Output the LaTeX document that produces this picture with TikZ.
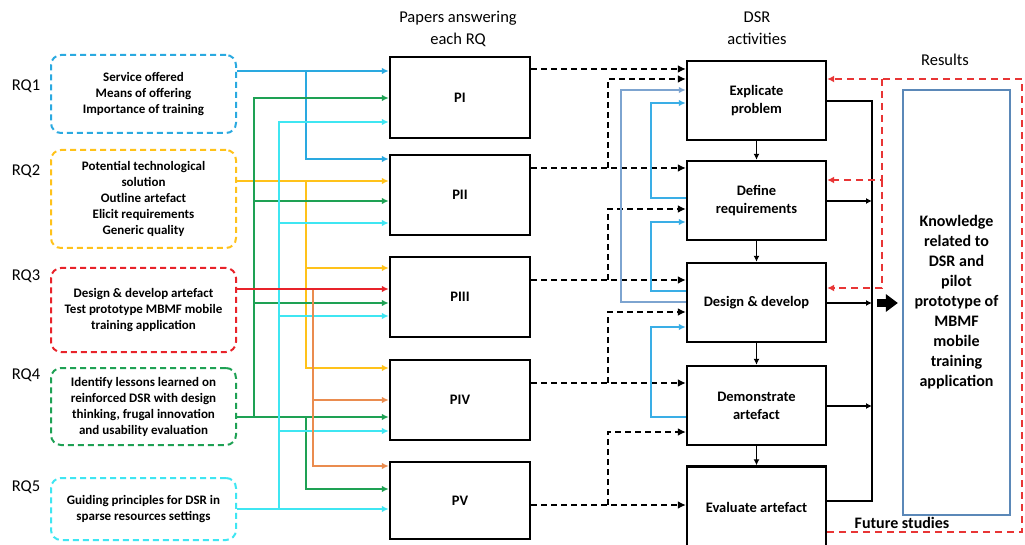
\documentclass[tikz,border=0pt]{standalone}
\usepackage{fontspec}
\setmainfont{Carlito}
\usetikzlibrary{arrows.meta}

\definecolor{rqblue}{HTML}{2AA9E0}
\definecolor{rqyellow}{HTML}{FFC21A}
\definecolor{rqred}{HTML}{E8232A}
\definecolor{rqgreen}{HTML}{1EA154}
\definecolor{rqcyan}{HTML}{3FE6F2}
\definecolor{rqorange}{HTML}{EA8C4F}
\definecolor{steelfb}{HTML}{7DA4D0}
\definecolor{skyfb}{HTML}{3AAEE6}
\definecolor{resedge}{HTML}{5B88B8}
\definecolor{loopred}{HTML}{E83535}

\tikzset{
  hdr/.style={align=center, font=\fontsize{16.5}{22}\selectfont, inner sep=0pt},
  rqbox/.style={draw, dash pattern=on 6pt off 4pt, line width=2pt, rounded corners=10pt,
    minimum width=185pt, align=center, inner sep=0pt,
    font=\bfseries\fontsize{13}{16}\selectfont},
  pbox/.style={draw, line width=2.4pt, minimum width=140pt, minimum height=80pt,
    font=\bfseries\fontsize{14.5}{18}\selectfont},
  dsrbox/.style={draw, line width=2.4pt, minimum width=139pt, minimum height=79pt, align=center,
    font=\bfseries\fontsize{14.5}{18}\selectfont},
  feed/.style={line width=2.4pt, -{Latex[length=7pt,width=6.5pt]}},
  blkdash/.style={line width=2.6pt, dash pattern=on 6pt off 4pt, -{Latex[length=8pt,width=8pt]}},
  fback/.style={line width=2.1pt, -{Latex[length=7pt,width=6.5pt]}},
  thinarrow/.style={line width=1.5pt, -{Latex[length=6pt,width=6pt]}},
  reddash/.style={draw=loopred, line width=2.4pt, dash pattern=on 7pt off 5pt},
}

\begin{document}
\begin{tikzpicture}[x=1pt,y=-1pt]
\useasboundingbox (0,0) rectangle (1025,545);
\fill[white] (0,0) rectangle (1025,545);

% column headers
\node[hdr] (hpap) at (458,29) {Papers answering\\each RQ};
\node[hdr] (hdsr) at (757,28) {DSR\\activities};
\node[hdr] (hres) at (945,60) {Results};

% research question labels
\node[hdr] (l1) at (26,86) {RQ1};
\node[hdr] (l2) at (26,171) {RQ2};
\node[hdr] (l3) at (26,276) {RQ3};
\node[hdr] (l4) at (26,375) {RQ4};
\node[hdr] (l5) at (26,487) {RQ5};

% research question boxes
\node[rqbox, draw=rqblue, minimum height=78pt] (rq1) at (143.5,94)
  {Service offered\\Means of offering\\Importance of training};
\node[rqbox, draw=rqyellow, minimum height=98pt] (rq2) at (143.5,199)
  {Potential technological\\solution\\Outline artefact\\Elicit requirements\\Generic quality};
\node[rqbox, draw=rqred, minimum height=84pt] (rq3) at (143.5,310)
  {Design \& develop artefact\\Test prototype MBMF mobile\\training application};
\node[rqbox, draw=rqgreen, minimum height=77pt] (rq4) at (143.5,406.5)
  {Identify lessons learned on\\reinforced DSR with design\\thinking, frugal innovation\\and usability evaluation};
\node[rqbox, draw=rqcyan, minimum height=62pt] (rq5) at (143.5,509)
  {Guiding principles for DSR in\\sparse resources settings};

% papers
\node[pbox, minimum height=81pt] (pI) at (460,97.5) {PI};
\node[pbox] (pII) at (460,195) {PII};
\node[pbox] (pIII) at (460,297) {PIII};
\node[pbox] (pIV) at (460,400) {PIV};
\node[pbox, minimum height=77pt] (pV) at (460,500.5) {PV};

% DSR activities
\node[dsrbox] (d1) at (756.5,100.5) {Explicate\\problem};
\node[dsrbox] (d2) at (756.5,200.5) {Define\\requirements};
\node[dsrbox] (d3) at (756.5,302.5) {Design \& develop};
\node[dsrbox] (d4) at (756.5,405.5) {Demonstrate\\artefact};
\node[dsrbox, minimum height=82pt] (d5) at (756.5,507.5) {Evaluate artefact};

% results
\node[draw=resedge, line width=2.2pt, minimum width=107pt, minimum height=425pt, align=center,
  font=\bfseries\fontsize{16}{20}\selectfont] (res) at (956.5,302.5)
  {Knowledge\\related to\\DSR and\\pilot\\prototype of\\MBMF\\mobile\\training\\application};

% junction points on the feeder buses
\coordinate (jb) at (306,71);
\coordinate (jy) at (306,181);
\coordinate (jy3) at (306,268);
\coordinate (jg) at (254,417);
\coordinate (jg2) at (254,201);
\coordinate (jg3) at (254,303);
\coordinate (jg5) at (306,417);
\coordinate (jc) at (279,509);
\coordinate (jc2) at (279,223);
\coordinate (jc3) at (279,316);
\coordinate (jc4) at (279,431);
\coordinate (jo) at (313,289);
\coordinate (jo4) at (313,400);

% RQ1 feeds PI and PII
\draw[feed, rqblue] (rq1.east |- jb) -- (pI.west |- jb);
\draw[feed, rqblue] (jb) |- (pII.west |- 0,159);
% RQ2 feeds PII, PIII and PIV
\draw[feed, rqyellow] (rq2.east |- jy) -- (pII.west |- jy);
\draw[feed, rqyellow] (jy) |- (pIV.west |- 0,368);
\draw[feed, rqyellow] (jy3) -- (pIII.west |- jy3);
% RQ4 feeds every paper
\draw[feed, rqgreen] (rq4.east |- jg) -- (pIV.west |- jg);
\draw[feed, rqgreen] (jg) |- (pI.west |- 0,98);
\draw[feed, rqgreen] (jg2) -- (pII.west |- jg2);
\draw[feed, rqgreen] (jg3) -- (pIII.west |- jg3);
\draw[feed, rqgreen] (jg5) |- (pV.west |- 0,489);
% RQ5 feeds every paper
\draw[feed, rqcyan] (rq5.east |- jc) -- (pV.west |- jc);
\draw[feed, rqcyan] (jc) |- (pI.west |- 0,122);
\draw[feed, rqcyan] (jc2) -- (pII.west |- jc2);
\draw[feed, rqcyan] (jc3) -- (pIII.west |- jc3);
\draw[feed, rqcyan] (jc4) -- (pIV.west |- jc4);
% RQ3 feeds PIII, with an orange branch to PIV and PV
\draw[feed, rqorange] (jo) |- (pV.west |- 0,466);
\draw[feed, rqorange] (jo4) -- (pIV.west |- jo4);
\draw[feed, rqred] (rq3.east |- jo) -- (pIII.west |- jo);

% papers to DSR activities
\coordinate (k2) at (608,168);
\coordinate (k3) at (608,280);
\coordinate (k4) at (608,383);
\coordinate (k5) at (608,505);
\draw[blkdash] (pI.east |- 0,69) -- (d1.west |- 0,69);
\draw[blkdash] (pII.east |- k2) -- (d2.west |- k2);
\draw[blkdash] (k2) |- (d1.west |- 0,79);
\draw[blkdash] (pIII.east |- k3) -- (d3.west |- k3);
\draw[blkdash] (k3) |- (d2.west |- 0,209);
\draw[blkdash] (pIV.east |- k4) -- (d4.west |- k4);
\draw[blkdash] (k4) |- (d3.west |- 0,312);
\draw[blkdash] (pV.east |- k5) -- (d5.west |- k5);
\draw[blkdash] (k5) |- (d4.west |- 0,432);

% iteration feedback on the left of the activities
\draw[fback, steelfb] (d3.west |- 0,302) -| (621,90) -- (d1.west |- 0,90);
\draw[fback, skyfb] (d2.west |- 0,198) -| (651,103) -- (d1.west |- 0,103);
\draw[fback, skyfb] (d3.west |- 0,291) -| (651,222) -- (d2.west |- 0,222);
\draw[fback, skyfb] (d4.west |- 0,417) -| (651,327) -- (d3.west |- 0,327);

% activity sequence
\draw[thinarrow] (d1.south) -- (d2.north);
\draw[thinarrow] (d2.south) -- (d3.north);
\draw[thinarrow] (d3.south) -- (d4.north);
\draw[thinarrow] (d4.south) -- (d5.north);

% outputs gathered on the bus
\coordinate (busB) at (872,501);
\draw[line width=1.5pt] (d1.east |- 0,101) -| (busB) -- (d5.east |- busB);
\draw[thinarrow] (d2.east |- 0,201) -- (872,201);
\draw[thinarrow] (d3.east |- 0,303) -- (872,303);
\draw[thinarrow] (d4.east |- 0,406) -- (872,406);
\draw[line width=8pt, -{Triangle[length=12pt,width=17pt]}] (877,303) -- ([xshift=-4pt]res.west |- 0,303);

% future studies loop
\coordinate (rl) at (882,79);
\coordinate (rm) at (882,180);
\draw[reddash, -{Latex[length=7pt,width=7pt]}, loopred] (d5.east |- 0,532) -- (1022,532) -- (1022,79) -- (d1.east |- rl);
\draw[reddash, -{Latex[length=7pt,width=7pt]}, loopred] (rl) |- (d2.east |- rm);
\draw[reddash, -{Latex[length=7pt,width=7pt]}, loopred] (rm) |- (d3.east |- 0,288);
\node[font=\bfseries\fontsize{16}{20}\selectfont, inner sep=0pt] (fut) at (902,523) {Future studies};
\end{tikzpicture}
\end{document}
